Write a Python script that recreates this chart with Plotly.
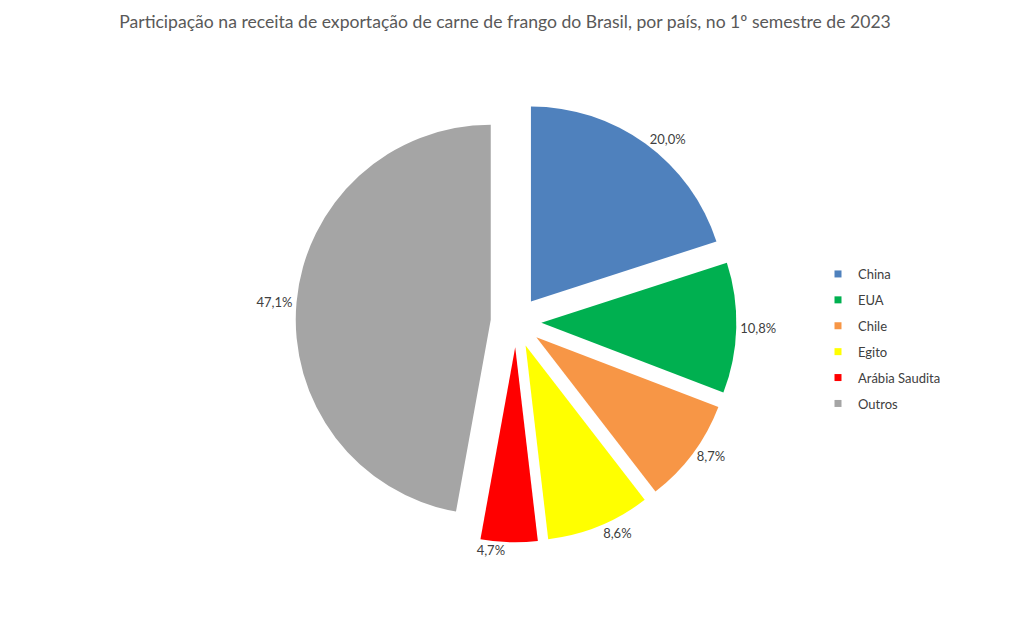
import plotly.graph_objects as go

paises = ["China", "EUA", "Chile", "Egito", "Arábia Saudita", "Outros"]
participacao = [20.0, 10.8, 8.7, 8.6, 4.7, 47.1]
rotulos = ["20,0%", "10,8%", "8,7%", "8,6%", "4,7%", "47,1%"]
cores = ["#4F81BD", "#00B050", "#F79646", "#FFFF00", "#FF0000", "#A5A5A5"]

W, H = 1012, 630
cx, cy, R, pull = 516, 322, 195, 0.13
half = R * (1 + pull)

fig = go.Figure()
fig.add_trace(go.Pie(
    labels=paises, values=participacao, text=rotulos,
    textinfo="text", textposition="outside",
    outsidetextfont=dict(size=13, color="#404040", family="Lato"),
    marker=dict(colors=cores, line=dict(width=0)),
    sort=False, direction="clockwise", rotation=0,
    pull=[pull] * len(paises), showlegend=False,
    domain=dict(x=[(cx - half) / W, (cx + half) / W],
                y=[(H - cy - half) / H, (H - cy + half) / H]),
    hoverinfo="label+text",
))
for i, (p, c) in enumerate(zip(paises, cores)):
    fig.add_trace(go.Scatter(
        x=[None], y=[None], mode="markers", name=p, legendgroup=f"g{i}",
        marker=dict(symbol="square", size=7, color=c), showlegend=True,
    ))

fig.update_layout(
    width=W, height=H,
    margin=dict(l=0, r=0, t=0, b=0),
    paper_bgcolor="white", plot_bgcolor="white",
    font=dict(family="Lato", color="#404040"),
    title=dict(text="Participação na receita de exportação de carne de frango do Brasil, por país, no 1º semestre de 2023",
               x=505 / W, xanchor="center", y=1 - 22 / H, yanchor="middle", yref="container",
               font=dict(size=17.6, color="#595959", family="Lato")),
    legend=dict(x=818 / W, y=1 - 259 / H, xanchor="left", yanchor="top",
                font=dict(size=13, color="#404040", family="Lato"),
                tracegroupgap=6, itemwidth=30, bgcolor="rgba(0,0,0,0)"),
    xaxis=dict(visible=False), yaxis=dict(visible=False),
)
fig.write_html("out.html")
